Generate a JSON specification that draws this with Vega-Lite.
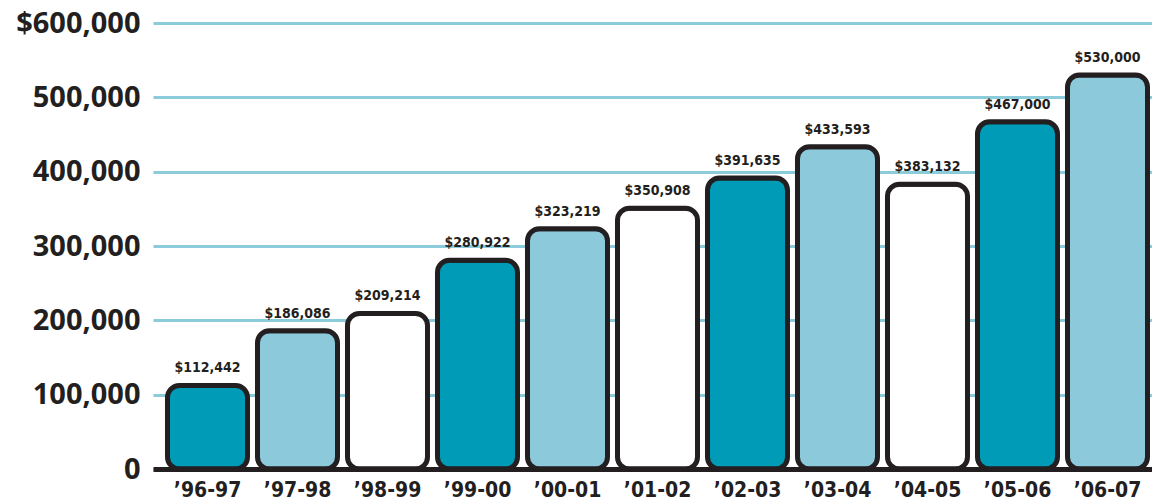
{
  "$schema": "https://vega.github.io/schema/vega-lite/v6.json",
  "width": 999,
  "height": 446,
  "autosize": {"type": "none"},
  "padding": {"left": 153, "top": 23, "right": 0, "bottom": 32},
  "background": "white",
  "config": {"view": {"stroke": null}},
  "data": {
    "values": [
      {"year": "’96-97", "amount": 112442},
      {"year": "’97-98", "amount": 186086},
      {"year": "’98-99", "amount": 209214},
      {"year": "’99-00", "amount": 280922},
      {"year": "’00-01", "amount": 323219},
      {"year": "’01-02", "amount": 350908},
      {"year": "’02-03", "amount": 391635},
      {"year": "’03-04", "amount": 433593},
      {"year": "’04-05", "amount": 383132},
      {"year": "’05-06", "amount": 467000},
      {"year": "’06-07", "amount": 530000}
    ]
  },
  "transform": [
    {"window": [{"op": "row_number", "as": "idx"}]},
    {"calculate": "(datum.idx - 1) % 3", "as": "tone"}
  ],
  "encoding": {
    "x": {
      "field": "year",
      "type": "nominal",
      "sort": null,
      "scale": {"paddingInner": 0.111, "paddingOuter": 0.1055, "align": 0.763},
      "axis": {
        "title": null,
        "labelAngle": 0,
        "ticks": false,
        "domain": true,
        "domainColor": "#231F20",
        "domainWidth": 5,
        "labelFont": "DejaVu Sans Condensed",
        "labelFontSize": 21,
        "labelFontWeight": "bold",
        "labelColor": "#231F20",
        "labelPadding": 10
      }
    },
    "y": {
      "field": "amount",
      "type": "quantitative",
      "scale": {"domain": [0, 600000], "nice": false},
      "axis": {
        "title": null,
        "values": [0, 100000, 200000, 300000, 400000, 500000, 600000],
        "labelExpr": "datum.value == 600000 ? '$600,000' : format(datum.value, ',')",
        "grid": true,
        "gridColor": "#8CCBDA",
        "gridWidth": 3,
        "domain": false,
        "ticks": false,
        "labelFont": "Open Sans",
        "labelFontSize": 29,
        "labelFontWeight": "bold",
        "labelColor": "#231F20",
        "labelPadding": 13
      }
    }
  },
  "layer": [
    {
      "mark": {"type": "bar", "cornerRadius": 12, "stroke": "#231F20", "strokeWidth": 5},
      "encoding": {
        "color": {
          "field": "tone",
          "type": "nominal",
          "scale": {"domain": [0, 1, 2], "range": ["#009BB7", "#8BC9DB", "#FFFFFF"]},
          "legend": null
        }
      }
    },
    {
      "mark": {"type": "text", "dy": -10, "baseline": "bottom", "font": "DejaVu Sans Condensed", "fontSize": 14, "fontWeight": "bold", "color": "#231F20"},
      "encoding": {
        "text": {"field": "amount", "type": "quantitative", "format": "$,"}
      }
    }
  ]
}
